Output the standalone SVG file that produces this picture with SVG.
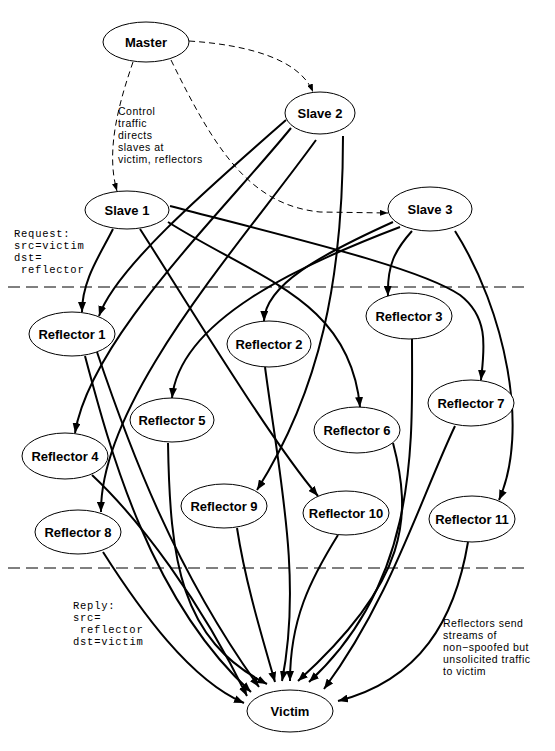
<svg xmlns="http://www.w3.org/2000/svg" width="555" height="751" viewBox="0 0 555 751">
<style>
.node ellipse{fill:#fff;stroke:#000;stroke-width:1}
.node text{font-family:"Liberation Sans",Arial,sans-serif;font-weight:bold;font-size:13px;text-anchor:middle;fill:#000}
.e{fill:none;stroke:#000;stroke-width:2;marker-end:url(#ah)}
.d{fill:none;stroke:#000;stroke-width:1;stroke-dasharray:6 4;marker-end:url(#ahs)}
.sep{stroke:#000;stroke-width:1;stroke-dasharray:12 6}
.note{font-family:"Liberation Sans",Arial,sans-serif;font-size:10.5px;letter-spacing:0.5px;fill:#000}
.mono{font-family:"Liberation Mono","Courier New",monospace;font-size:10.5px;letter-spacing:0.75px;fill:#000}
</style>
<defs>
<marker id="ah" markerUnits="userSpaceOnUse" markerWidth="10" markerHeight="8" refX="10" refY="4" orient="auto"><path d="M0,0 L10,4 L0,8 z" fill="#000"/></marker>
<marker id="ahs" markerUnits="userSpaceOnUse" markerWidth="8" markerHeight="6" refX="8" refY="3" orient="auto"><path d="M0,0 L8,3 L0,6 z" fill="#000"/></marker>
</defs>
<rect width="555" height="751" fill="#fff"/>
<line class="sep" x1="8" y1="287" x2="528" y2="287"/>
<line class="sep" x1="8" y1="568" x2="528" y2="568"/>
<g id="connectors">
<path class="d" d="M189,41 C250,45 300,60 313,92"/>
<path class="d" d="M133,62 C120,100 105,150 117,191"/>
<path class="d" d="M171,60 C215,150 250,205 320,212 L388,213"/>
<path class="e" d="M113,229 C100,255 82,280 82,312"/>
<path class="e" d="M140,229 C180,291 270,440 318,496"/>
<path class="e" d="M168,222 C260,280 350,300 360,407"/>
<path class="e" d="M170,206 C300,240 420,268 460,295 C490,318 484,350 481,380"/>
<path class="e" d="M286,120 C200,195 115,270 99,316"/>
<path class="e" d="M291,128 C220,215 90,340 75,433"/>
<path class="e" d="M316,140 C240,245 100,400 101,512"/>
<path class="e" d="M343,136 C343,280 320,390 257,490"/>
<path class="e" d="M412,231 C395,250 387,265 388,296"/>
<path class="e" d="M455,231 C505,310 530,430 499,500"/>
<path class="e" d="M393,222 C320,255 265,285 264,321"/>
<path class="e" d="M400,227 C300,265 180,320 172,398"/>
<path class="e" d="M103,552 C140,610 190,680 244,703"/>
<path class="e" d="M92,475 C140,520 200,600 247,696"/>
<path class="e" d="M85,356 C110,450 150,600 251,692"/>
<path class="e" d="M97,352 C130,450 175,570 259,687"/>
<path class="e" d="M168,443 C170,560 180,640 267,684"/>
<path class="e" d="M237,528 C245,580 260,630 275,682"/>
<path class="e" d="M265,367 C280,480 302,580 282,681"/>
<path class="e" d="M338,535 C310,580 290,620 290,681"/>
<path class="e" d="M393,443 C412,515 410,580 298,681"/>
<path class="e" d="M412,339 C412,440 420,580 309,682"/>
<path class="e" d="M455,426 C420,500 390,600 324,689"/>
<path class="e" d="M468,542 C455,620 420,680 338,701"/>
</g>
<g id="master" class="node"><ellipse cx="146" cy="42" rx="43" ry="20"/><text x="146" y="46.5">Master</text></g>
<g id="slave2" class="node"><ellipse cx="320" cy="113" rx="35" ry="21"/><text x="320" y="117.5">Slave 2</text></g>
<g id="slave1" class="node"><ellipse cx="127" cy="210" rx="42" ry="19"/><text x="127" y="214.5">Slave 1</text></g>
<g id="slave3" class="node"><ellipse cx="430" cy="209" rx="42" ry="22"/><text x="430" y="213.5">Slave 3</text></g>
<g id="reflector1" class="node"><ellipse cx="72" cy="334" rx="43" ry="22"/><text x="72" y="338.5">Reflector 1</text></g>
<g id="reflector2" class="node"><ellipse cx="269" cy="344" rx="42" ry="23"/><text x="269" y="348.5">Reflector 2</text></g>
<g id="reflector3" class="node"><ellipse cx="409" cy="316" rx="43" ry="23"/><text x="409" y="320.5">Reflector 3</text></g>
<g id="reflector4" class="node"><ellipse cx="65" cy="456" rx="43" ry="23"/><text x="65" y="460.5">Reflector 4</text></g>
<g id="reflector5" class="node"><ellipse cx="172" cy="420" rx="42" ry="22"/><text x="172" y="424.5">Reflector 5</text></g>
<g id="reflector6" class="node"><ellipse cx="357" cy="430" rx="43" ry="23"/><text x="357" y="434.5">Reflector 6</text></g>
<g id="reflector7" class="node"><ellipse cx="471" cy="403" rx="43" ry="23"/><text x="471" y="407.5">Reflector 7</text></g>
<g id="reflector8" class="node"><ellipse cx="78" cy="532" rx="43" ry="22"/><text x="78" y="536.5">Reflector 8</text></g>
<g id="reflector9" class="node"><ellipse cx="224" cy="506" rx="43" ry="22"/><text x="224" y="510.5">Reflector 9</text></g>
<g id="reflector10" class="node"><ellipse cx="346" cy="513" rx="43" ry="22"/><text x="346" y="517.5">Reflector 10</text></g>
<g id="reflector11" class="node"><ellipse cx="472" cy="519" rx="43" ry="23"/><text x="472" y="523.5">Reflector 11</text></g>
<g id="victim" class="node"><ellipse cx="290" cy="711" rx="43" ry="21"/><text x="290" y="715.5">Victim</text></g>
<g id="labels">
<text class="note" x="118" y="115">Control</text>
<text class="note" x="118" y="127.1">traffic</text>
<text class="note" x="118" y="139.2">directs</text>
<text class="note" x="118" y="151.3">slaves at</text>
<text class="note" x="118" y="163.4">victim, reflectors</text>
<text class="mono" x="14" y="237">Request:</text>
<text class="mono" x="14" y="249">src=victim</text>
<text class="mono" x="14" y="261">dst=</text>
<text class="mono" x="21" y="273">reflector</text>
<text class="mono" x="73" y="609">Reply:</text>
<text class="mono" x="73" y="621">src=</text>
<text class="mono" x="80" y="633">reflector</text>
<text class="mono" x="73" y="645">dst=victim</text>
<text class="note" x="443" y="627">Reflectors send</text>
<text class="note" x="443" y="639.1">streams of</text>
<text class="note" x="443" y="651.2">non−spoofed but</text>
<text class="note" x="443" y="663.3">unsolicited traffic</text>
<text class="note" x="443" y="675.4">to victim</text>
</g>
</svg>
